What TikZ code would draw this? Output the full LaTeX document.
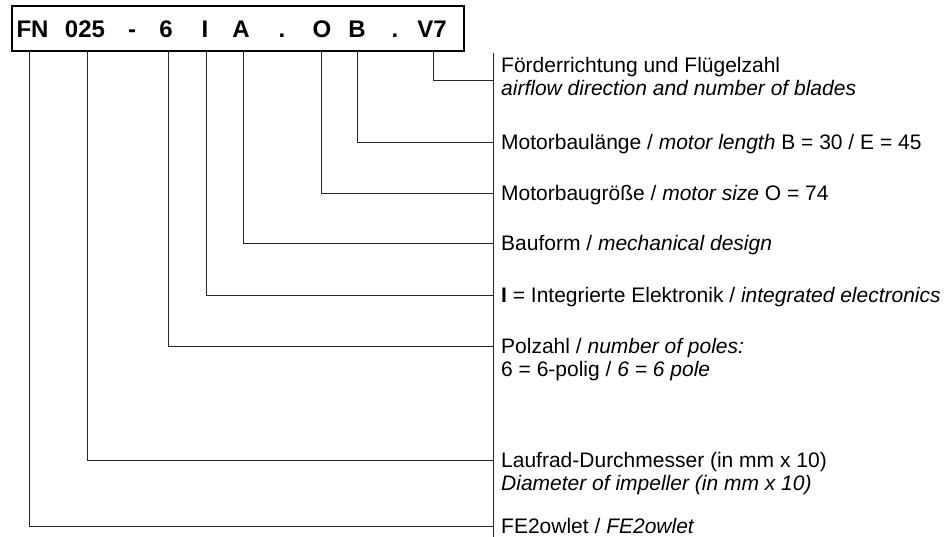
\documentclass[tikz,border=0pt]{standalone}
\usepackage{fontspec}
\setmainfont{Liberation Sans}
\begin{document}
\begin{tikzpicture}[x=1pt,y=-1pt,
  conn/.style={draw=black!85, line width=0.9pt},
  codechar/.style={anchor=base, inner sep=0pt, font=\fontsize{24}{24}\selectfont\bfseries},
  lbl/.style={anchor=west, inner xsep=8pt, inner ysep=0pt, text height=15pt, text depth=0pt, font=\fontsize{21}{21}\selectfont},
  codebox/.style={draw=black, line width=1.4pt, minimum width=452pt, minimum height=45pt, inner sep=0pt}
]
\useasboundingbox (0,0) rectangle (949,537);
\node[codebox] (box) at (238,28.5) {};
% code characters
\node[codechar] (cFN) at (32.5,37.5) {FN};
\node[codechar] (c025) at (85,37.5) {025};
\node[codechar] (cdash) at (132,37.5) {-};
\node[codechar] (c6) at (166,37.5) {6};
\node[codechar] (cI) at (205,37.5) {I};
\node[codechar] (cA) at (241,37.5) {A};
\node[codechar] (cdot1) at (282,37.5) {.};
\node[codechar] (cO) at (322,37.5) {O};
\node[codechar] (cB) at (357,37.5) {B};
\node[codechar] (cdot2) at (395,37.5) {.};
\node[codechar] (cV) at (432,37.5) {V7};
% taps on the box bottom
\coordinate (tFN) at (29,51);
\coordinate (t025) at (87,51);
\coordinate (t6) at (168,51);
\coordinate (tI) at (206,51);
\coordinate (tA) at (243,51);
\coordinate (tO) at (321,51);
\coordinate (tB) at (357,51);
\coordinate (tV) at (433,51);
% vertical bar
\coordinate (bartop) at (493,53);
\coordinate (barbot) at (493,537);
\draw[conn] (bartop) -- (barbot);
\coordinate (jV) at (493,80);
% labels
\node[lbl] (lV1) at (493,65.5) {Förderrichtung und Flügelzahl};
\node[lbl] (lV2) at (493,88.5) {\itshape airflow direction and number of blades};
\node[lbl] (lB) at (493,142) {Motorbaulänge / \textit{motor length} B = 30 / E = 45};
\node[lbl] (lO) at (493,193) {Motorbaugröße / \textit{motor size} O = 74};
\node[lbl] (lA) at (493,243) {Bauform / \textit{mechanical design}};
\node[lbl] (lI) at (493,295) {\textbf{I} = Integrierte Elektronik / \textit{integrated electronics}};
\node[lbl] (l6a) at (493,346) {Polzahl / \textit{number of poles:}};
\node[lbl] (l6b) at (493,369) {6 = 6-polig / \textit{6 = 6 pole}};
\node[lbl] (l025a) at (493,460) {Laufrad-Durchmesser (in mm x 10)};
\node[lbl] (l025b) at (493,483) {\itshape Diameter of impeller (in mm x 10)};
\node[lbl] (lFN) at (493,526) {FE2owlet / \textit{FE2owlet}};
% connectors
\draw[conn] (tV) |- (jV);
\draw[conn] (tB) |- (lB.west);
\draw[conn] (tO) |- (lO.west);
\draw[conn] (tA) |- (lA.west);
\draw[conn] (tI) |- (lI.west);
\draw[conn] (t6) |- (l6a.west);
\draw[conn] (t025) |- (l025a.west);
\draw[conn] (tFN) |- (lFN.west);
\end{tikzpicture}
\end{document}
